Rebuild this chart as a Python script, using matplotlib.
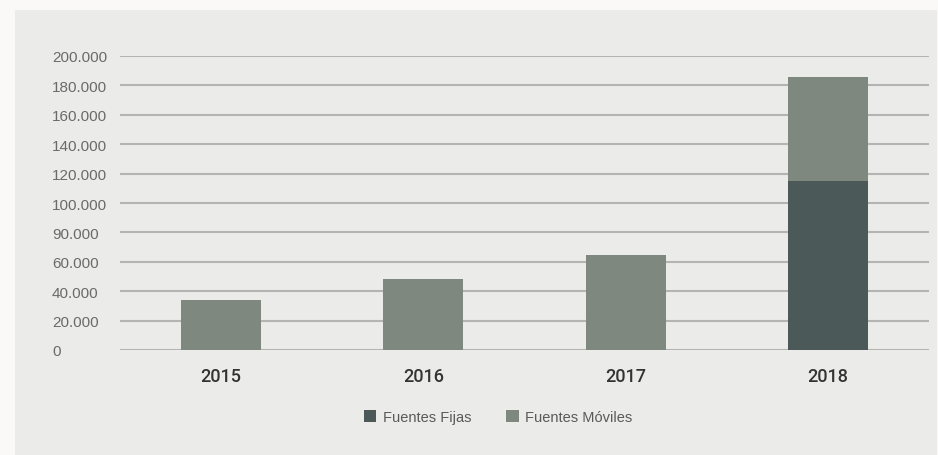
import matplotlib.pyplot as plt
from matplotlib.patches import Rectangle

# data
years = ['2015', '2016', '2017', '2018']
fuentes_fijas = [0, 0, 0, 115000]
fuentes_moviles = [34200, 48300, 64300, 70700]
ytick_values = [0, 20000, 40000, 60000, 80000, 100000, 120000, 140000, 160000, 180000, 200000]
ytick_labels = ['0', '20.000', '40.000', '60.000', '90.000', '100.000', '120.000',
                '140.000', '160.000', '180.000', '200.000']

col_fijas = '#4b5a59'
col_moviles = '#7e887f'

plt.rcParams['font.family'] = ['Liberation Sans', 'DejaVu Sans']

W, H = 938, 456
fig = plt.figure(figsize=(W / 100, H / 100), dpi=100)
fig.patch.set_facecolor('#faf9f7')
# grey panel behind the chart
fig.patches.append(Rectangle((15 / W, 0), (937 - 15) / W, (H - 11) / H,
                             transform=fig.transFigure, facecolor='#ebebe9',
                             edgecolor='none', zorder=-10))

ax = fig.add_axes([120 / W, 1 - 351 / H, (929 - 120) / W, (351 - 57) / H])
ax.set_facecolor('none')

x = range(len(years))
ax.bar(x, fuentes_fijas, width=0.395, color=col_fijas, label='Fuentes Fijas', zorder=3)
ax.bar(x, fuentes_moviles, width=0.395, bottom=fuentes_fijas, color=col_moviles,
       label='Fuentes Móviles', zorder=3)

ax.set_xlim(-0.5, 3.5)
ax.set_ylim(0, 200000)
ax.set_yticks(ytick_values)
ax.set_yticklabels(ytick_labels)
ax.set_xticks(list(x))
ax.set_xticklabels(years)

ax.yaxis.grid(True, color='#b4b4b2', linewidth=1.5, zorder=1)
ax.set_axisbelow(True)
for s in ax.spines.values():
    s.set_visible(False)

ax.tick_params(axis='y', length=0, pad=49, labelsize=11, labelcolor='#6a6a6a')
ax.tick_params(axis='x', length=0, pad=12, labelsize=13, labelcolor='#333333')
for lab in ax.get_yticklabels():
    lab.set_ha('left')
for lab in ax.get_xticklabels():
    lab.set_family(['Roboto', 'Liberation Sans'])
    lab.set_fontweight('medium')

fig.legend(loc='center', bbox_to_anchor=(498 / W, 1 - 418 / H), ncol=2, frameon=False,
           fontsize=10.5, labelcolor='#5a5a5a', handlelength=0.85, handleheight=0.85,
           handletextpad=0.45, columnspacing=2.4)

fig.savefig('out.png', dpi=100, facecolor=fig.get_facecolor())
